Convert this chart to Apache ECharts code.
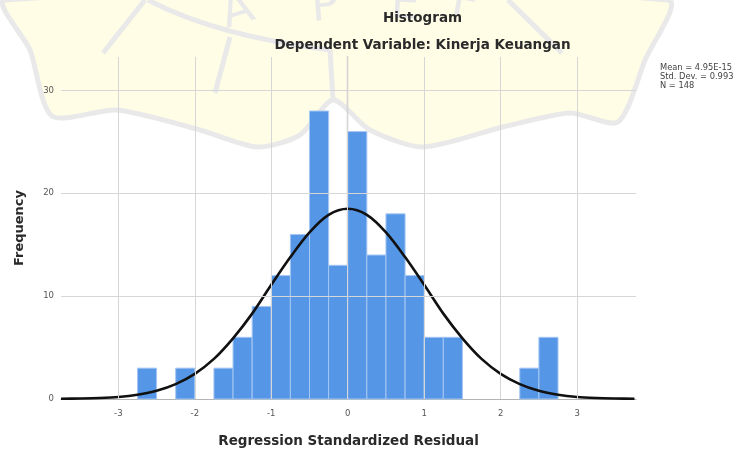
<!DOCTYPE html>
<html>
<head>
<meta charset="utf-8">
<script src="https://cdn.jsdelivr.net/npm/echarts@6/dist/echarts.min.js"></script>
<style>
html,body{margin:0;padding:0;background:#fff;}
#chart{width:745px;height:453px;}
</style>
</head>
<body>
<div id="chart"></div>
<script>
// ---- data ----
const titleMain = 'Histogram';
const titleSub = 'Dependent Variable: Kinerja Keuangan';
const xAxisName = 'Regression Standardized Residual';
const yAxisName = 'Frequency';
const statLines = ['Mean = 4.95E-15', 'Std. Dev. = 0.993', 'N = 148'];

const xTickValues = [-3, -2, -1, 0, 1, 2, 3];
const yTickValues = [0, 10, 20, 30];

const binWidth = 0.25;
const binStarts = [-2.75, -2.25, -1.75, -1.5, -1.25, -1.0, -0.75, -0.5, -0.25, 0, 0.25, 0.5, 0.75, 1.0, 1.25, 2.25, 2.5];
const binCounts = [3, 3, 3, 6, 9, 12, 16, 28, 13, 26, 14, 18, 12, 6, 6, 3, 6];

const curveX = [-3.75, -3.5, -3.25, -3.0, -2.75, -2.5, -2.25, -2.0, -1.75, -1.5, -1.25, -1.0, -0.75, -0.5, -0.25, 0,
                0.25, 0.5, 0.75, 1.0, 1.25, 1.5, 1.75, 2.0, 2.25, 2.5, 2.75, 3.0, 3.25, 3.5, 3.75];
const curveY = [0.02, 0.05, 0.1, 0.2, 0.42, 0.8, 1.45, 2.45, 3.9, 5.9, 8.3, 11.1, 13.8, 16.2, 17.9, 18.5,
                17.9, 16.2, 13.8, 11.1, 8.3, 5.9, 3.9, 2.45, 1.45, 0.8, 0.42, 0.2, 0.1, 0.05, 0.02];

// ---- build ----
const barData = binStarts.map((s, i) => [s, s + binWidth, binCounts[i]]);
const curveData = curveX.map((x, i) => [x, curveY[i]]);

const FONT = '"DejaVu Sans", sans-serif';
const wmStroke = '#e9e9e9';

function wmLine(x1, y1, x2, y2) {
  return {type: 'line', silent: true, z: 0, shape: {x1: x1, y1: y1, x2: x2, y2: y2},
          style: {stroke: wmStroke, lineWidth: 5}};
}
function wmLetter(ch, x, y, rot) {
  return {type: 'text', silent: true, z: 0, x: x, y: y, rotation: rot,
          style: {text: ch, font: '46px "DejaVu Sans"', fill: wmStroke, textAlign: 'center', textVerticalAlign: 'middle'}};
}

const chart = echarts.init(document.getElementById('chart'), null, {renderer: 'canvas'});
chart.setOption({
  animation: false,
  backgroundColor: '#ffffff',
  grid: {left: 61, right: 109, top: 57, bottom: 48, containLabel: false},
  xAxis: {
    type: 'value', min: -3.75, max: 3.77,
    name: xAxisName, nameLocation: 'middle', nameGap: 35,
    nameTextStyle: {fontFamily: FONT, fontSize: 13.5, fontWeight: 'bold', color: '#2a2a2a'},
    axisLine: {show: true, onZero: false, lineStyle: {color: '#b5b5b5', width: 1}},
    axisTick: {show: false},
    splitLine: {show: false},
    axisLabel: {customValues: xTickValues, fontFamily: FONT, fontSize: 8.5, color: '#555', margin: 10}
  },
  yAxis: {
    type: 'value', min: 0, max: 33.25,
    name: yAxisName, nameLocation: 'middle', nameGap: 35, nameRotate: 90,
    nameTextStyle: {fontFamily: FONT, fontSize: 13, fontWeight: 'bold', color: '#2a2a2a'},
    axisLine: {show: true, lineStyle: {color: '#a8a8a8', width: 1.3}},
    axisTick: {show: false},
    splitLine: {show: false},
    axisLabel: {customValues: yTickValues, fontFamily: FONT, fontSize: 8.5, color: '#555', margin: 7}
  },
  graphic: [
    // faint watermark in the background
    {type: 'polygon', silent: true, z: 0,
     shape: {points: [[5, 0], [30, 50], [52, 116], [117, 110], [200, 130], [257, 147], [300, 135], [333, 100],
                      [370, 130], [423, 147], [503, 127], [570, 113], [618, 122], [645, 60], [668, 0]], smooth: 0.25},
     style: {fill: '#fffde6', stroke: wmStroke, lineWidth: 5}},
    wmLine(103, 53, 145, 0),
    {type: 'bezierCurve', silent: true, z: 0,
     shape: {x1: 148, y1: 0, cpx1: 190, cpy1: 22, cpx2: 250, cpy2: 40, x2: 330, y2: 50},
     style: {stroke: wmStroke, lineWidth: 5, fill: null}},
    wmLine(330, 50, 333, 100),
    wmLine(230, 37, 215, 93),
    wmLine(508, 0, 562, 53),
    wmLetter('A', 238, 12, 0.3),
    wmLetter('P', 325, 8, 0.08),
    wmLetter('E', 405, 6, -0.05),
    wmLetter('F', 465, 4, -0.18),
    // titles
    {type: 'text', z: 10, x: 422.5, y: 18.5,
     style: {text: titleMain, font: 'bold 13.5px "DejaVu Sans"', fill: '#2a2a2a', textAlign: 'center', textVerticalAlign: 'middle'}},
    {type: 'text', z: 10, x: 422.5, y: 45.5,
     style: {text: titleSub, font: 'bold 13.5px "DejaVu Sans"', fill: '#2a2a2a', textAlign: 'center', textVerticalAlign: 'middle'}},
    // statistics block
    {type: 'text', z: 10, x: 660, y: 63,
     style: {text: statLines.join('\n'), font: '8.3px "DejaVu Sans"', lineHeight: 9.3, fill: '#444', textAlign: 'left', textVerticalAlign: 'top'}}
  ],
  series: [
    {
      name: 'grid', type: 'line', data: [], z: 1, silent: true,
      markLine: {
        silent: true, animation: false, symbol: ['none', 'none'],
        label: {show: false},
        lineStyle: {color: '#d6d6d6', width: 1, type: 'solid'},
        data: xTickValues.map(v => ({xAxis: v})).concat(yTickValues.filter(v => v > 0).map(v => ({yAxis: v})))
      }
    },
    {
      name: 'Frequency', type: 'custom', z: 2,
      encode: {x: [0, 1], y: 2},
      data: barData,
      renderItem: function (params, api) {
        const x0 = api.value(0), x1 = api.value(1), c = api.value(2);
        const p0 = api.coord([x0, c]);
        const p1 = api.coord([x1, 0]);
        return {
          type: 'rect',
          shape: {x: p0[0], y: p0[1], width: p1[0] - p0[0], height: p1[1] - p0[1]},
          style: {fill: '#5596e6', stroke: '#a6c7f2', lineWidth: 1}
        };
      }
    },
    {
      name: 'Normal', type: 'line', z: 3, data: curveData, smooth: 0.3,
      showSymbol: false, symbol: 'none', silent: true,
      lineStyle: {color: '#111', width: 2.6}
    }
  ]
});
</script>
</body>
</html>
